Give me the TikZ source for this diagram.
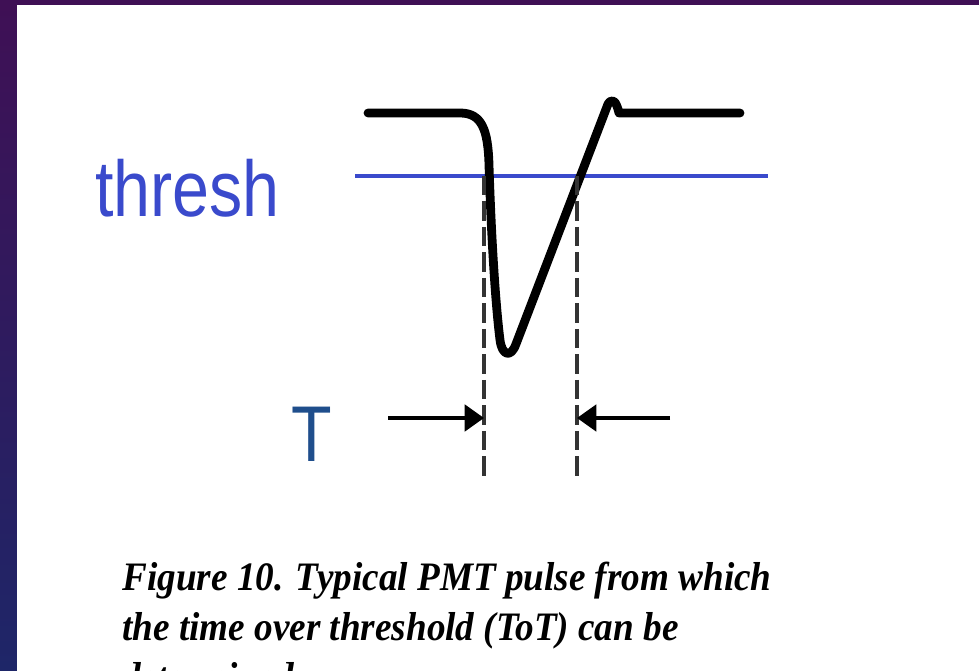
\documentclass[tikz,border=0pt]{standalone}
\usepackage{fontspec}
\setmainfont{Liberation Serif}
\newfontfamily\labelfont[FakeStretch=0.84]{Liberation Sans}
\newfontfamily\captionfont[FakeStretch=0.92]{Liberation Serif}
\usetikzlibrary{arrows.meta}
\definecolor{slidepurple}{HTML}{3F1055}
\definecolor{slideblue}{HTML}{1E2668}
\definecolor{threshblue}{HTML}{3A4ACC}
\definecolor{teeblue}{HTML}{1F4E8C}

\begin{document}
\begin{tikzpicture}[x=0.02cm,y=-0.02cm,
    signal/.style={draw,line width=5pt,line cap=round,line join=round},
    level/.style={draw=threshblue,line width=2.2pt},
    marker/.style={draw=black!80,line width=2.2pt,dash pattern=on 11pt off 3.5pt},
    span/.style={-{Triangle[length=11pt,width=15pt]},draw,line width=2.2pt},
    axislabel/.style={font=\labelfont\fontsize{45}{54}\selectfont,inner sep=0pt,anchor=base west},
    caption/.style={font=\captionfont\bfseries\itshape\fontsize{23}{28}\selectfont,inner sep=0pt,anchor=base west}
]
    \useasboundingbox (0,0) rectangle (979,671);
    \clip (0,0) rectangle (979,671);
    % slide frame
    \shade[top color=slidepurple,bottom color=slideblue] (0,0) rectangle (979,671);
    \fill[white] (17,5) rectangle (979,671);

    % labels
    \node[axislabel,text=threshblue] (thresh) at (95,217) {thresh};
    \node[axislabel,text=teeblue] (tee) at (291,461) {T};

    % threshold level
    \coordinate (lvlleft) at (355,176);
    \coordinate (lvlright) at (768,176);
    \draw[level] (lvlleft) -- (lvlright);

    % pulse
    \draw[signal] (368,113) -- (460,113)
        .. controls (482,113) and (488,130) .. (489,165)
        .. controls (491,230) and (495,300) .. (500,340)
        .. controls (502,356) and (511,358) .. (516,344)
        -- (608,104)
        .. controls (612,98) and (616,100) .. (619,113)
        -- (740,113);

    % crossing markers
    \coordinate (lup) at (484,176);
    \coordinate (llow) at (484,477);
    \coordinate (rup) at (577,176);
    \coordinate (rlow) at (577,477);
    \draw[marker] (lup) -- (llow);
    \draw[marker] (rup) -- (rlow);

    % width arrows
    \coordinate (lstart) at (388,418);
    \coordinate (rstart) at (670,418);
    \draw[span] (lstart) -- (lstart -| lup);
    \draw[span] (rstart) -- (rstart -| rup);

    % caption
    \node[caption] (cap1) at (122,590) {Figure 10. Typical PMT pulse from which};
    \node[caption] (cap2) at (122,640) {the time over threshold (ToT) can be};
    \node[caption] (cap3) at (122,690) {determined.};
\end{tikzpicture}
\end{document}
